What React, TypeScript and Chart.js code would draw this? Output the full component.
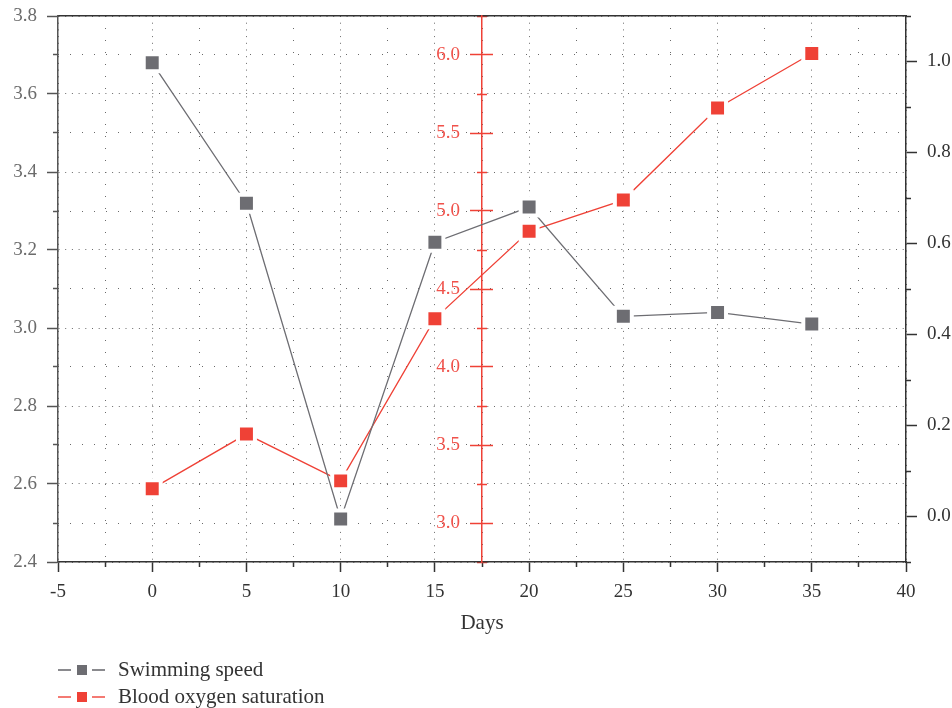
import React, { useEffect, useRef } from "react";
import { Chart, registerables } from "chart.js";

Chart.register(...registerables);

// ---- data ----
const days = [0, 5, 10, 15, 20, 25, 30, 35];
const swimmingSpeed = [3.68, 3.32, 2.51, 3.22, 3.31, 3.03, 3.04, 3.01];
const bloodOxygen = [3.22, 3.57, 3.27, 4.31, 4.87, 5.07, 5.66, 6.01];

// ---- axes ----
const xRange = [-5, 40];
const leftRange = [2.4, 3.8];
const redRange = [2.75, 6.25];
const rightRange = [-0.1, 1.1];
const redAxisAt = 17.5;

const xMajorTicks = [-5, 0, 5, 10, 15, 20, 25, 30, 35, 40];
const xMinorTicks = [-2.5, 2.5, 7.5, 12.5, 17.5, 22.5, 27.5, 32.5, 37.5];
const leftMajorTicks = [2.4, 2.6, 2.8, 3.0, 3.2, 3.4, 3.6, 3.8];
const leftMinorTicks = [2.5, 2.7, 2.9, 3.1, 3.3, 3.5, 3.7];
const redMajorTicks = [3.0, 3.5, 4.0, 4.5, 5.0, 5.5, 6.0];
const redMinorTicks = [2.75, 3.25, 3.75, 4.25, 4.75, 5.25, 5.75, 6.25];
const rightMajorTicks = [0.0, 0.2, 0.4, 0.6, 0.8, 1.0];
const rightMinorTicks = [-0.1, 0.1, 0.3, 0.5, 0.7, 0.9, 1.1];

// ---- layout / style ----
const LEFT_W = 58;
const RIGHT_W = 46;
const PLOT_W = 952 - LEFT_W - RIGHT_W;
const RED_LABEL_GAP_PX = 22;
const redLabelsAt = redAxisAt - (RED_LABEL_GAP_PX * (xRange[1] - xRange[0])) / PLOT_W;

const FONT = "'Liberation Serif', 'Times New Roman', Times, serif";
const GRAY = "#6d6d72";
const RED = "#ef4136";
const RED_LABEL = "#f0524b";
const GRID = "#6a6a6a";
const DARK = "#333333";
const MAJOR_DASH = [1, 5.7];
const MINOR_DASH = [1, 11];

const fixedTicks = (vals: number[]) => (scale: any) => {
  scale.ticks = vals.map((v) => ({ value: v }));
};

const noPad = (s: any) => {
  s.paddingTop = 0;
  s.paddingBottom = 0;
};

const tickOnly = (
  position: any,
  range: number[],
  vals: number[],
  len: number,
  color: string
) => ({
  type: "linear",
  position,
  min: range[0],
  max: range[1],
  afterBuildTicks: fixedTicks(vals),
  ticks: { display: false },
  grid: {
    drawOnChartArea: false,
    tickLength: len,
    tickColor: color,
    tickWidth: 1.5,
  },
  border: { display: false },
});

export default function App() {
  const ref = useRef<HTMLCanvasElement | null>(null);

  useEffect(() => {
    if (!ref.current) return;
    const chart = new Chart(ref.current, {
      type: "line",
      data: {
        datasets: [
          {
            label: "Swimming speed",
            data: days.map((d, i) => ({ x: d, y: swimmingSpeed[i] })),
            xAxisID: "x",
            yAxisID: "y",
            borderColor: GRAY,
            borderWidth: 1.3,
            pointStyle: "rect",
            pointRadius: 12,
            pointHoverRadius: 12,
            pointBackgroundColor: GRAY,
            pointBorderColor: "#ffffff",
            pointBorderWidth: 4,
            tension: 0,
            fill: false,
          },
          {
            label: "Blood oxygen saturation",
            data: days.map((d, i) => ({ x: d, y: bloodOxygen[i] })),
            xAxisID: "x",
            yAxisID: "yRed",
            borderColor: RED,
            borderWidth: 1.3,
            pointStyle: "rect",
            pointRadius: 12,
            pointHoverRadius: 12,
            pointBackgroundColor: RED,
            pointBorderColor: "#ffffff",
            pointBorderWidth: 4,
            tension: 0,
            fill: false,
          },
        ],
      },
      options: {
        responsive: false,
        animation: false,
        layout: { padding: { top: 16, left: 0, right: 0, bottom: 72 } },
        plugins: {
          legend: { display: false },
          tooltip: { enabled: false },
        },
        scales: {
          x: {
            type: "linear",
            position: "bottom",
            min: xRange[0],
            max: xRange[1],
            afterBuildTicks: fixedTicks(xMajorTicks),
            afterFit: (s: any) => {
              s.height = 74;
            },
            ticks: {
              font: { family: FONT, size: 19 },
              color: DARK,
              padding: 9,
              autoSkip: false,
              maxRotation: 0,
              callback: (v: any) => String(v),
            },
            grid: {
              color: GRID,
              lineWidth: 1,
              tickLength: 10,
              tickColor: DARK,
              tickWidth: 1.5,
            },
            border: { color: DARK, width: 1.5, dash: MAJOR_DASH },
            title: {
              display: true,
              text: "Days",
              font: { family: FONT, size: 21 },
              color: DARK,
              padding: { top: 0, bottom: 0 },
            },
          },
          xMinor: {
            type: "linear",
            position: { y: leftRange[0] },
            min: xRange[0],
            max: xRange[1],
            afterBuildTicks: fixedTicks(xMinorTicks),
            ticks: { display: false },
            grid: {
              color: GRID,
              lineWidth: 1,
              tickLength: 5,
              tickColor: DARK,
              tickWidth: 1.5,
            },
            border: { display: false, dash: MINOR_DASH },
          },
          xTop: {
            type: "linear",
            position: { y: leftRange[1] },
            min: xRange[0],
            max: xRange[1],
            afterBuildTicks: fixedTicks(xMajorTicks),
            ticks: { display: false },
            grid: { drawOnChartArea: false, drawTicks: false },
            border: { display: true, color: DARK, width: 1.5 },
          },
          y: {
            type: "linear",
            position: "left",
            min: leftRange[0],
            max: leftRange[1],
            afterBuildTicks: fixedTicks(leftMajorTicks),
            afterFit: (s: any) => {
              s.width = LEFT_W;
              noPad(s);
            },
            ticks: {
              font: { family: FONT, size: 19 },
              color: "#6b6b6b",
              padding: 10,
              callback: (v: any) => Number(v).toFixed(1),
            },
            grid: {
              color: GRID,
              lineWidth: 1,
              tickLength: 11,
              tickColor: "#555555",
              tickWidth: 1.5,
            },
            border: { color: "#555555", width: 1.5, dash: MAJOR_DASH },
          },
          yMinor: {
            type: "linear",
            position: { x: xRange[0] },
            min: leftRange[0],
            max: leftRange[1],
            afterBuildTicks: fixedTicks(leftMinorTicks),
            ticks: { display: false },
            grid: {
              color: GRID,
              lineWidth: 1,
              tickLength: 5,
              tickColor: "#555555",
              tickWidth: 1.5,
            },
            border: { display: false, dash: MINOR_DASH },
          },
          yRed: {
            type: "linear",
            position: { x: redAxisAt },
            min: redRange[0],
            max: redRange[1],
            afterBuildTicks: fixedTicks(redMajorTicks),
            ticks: { display: false },
            grid: {
              drawOnChartArea: false,
              tickLength: 11,
              tickColor: RED,
              tickWidth: 1.5,
            },
            border: { color: RED, width: 1.5 },
          },
          yRedLabels: {
            type: "linear",
            position: { x: redLabelsAt },
            min: redRange[0],
            max: redRange[1],
            afterBuildTicks: fixedTicks(redMajorTicks),
            afterFit: noPad,
            ticks: {
              font: { family: FONT, size: 19 },
              color: RED_LABEL,
              padding: 0,
              callback: (v: any) => Number(v).toFixed(1),
            },
            grid: { drawOnChartArea: false, drawTicks: false },
            border: { display: false },
          },
          yRedR: tickOnly({ x: redAxisAt }, redRange, redMajorTicks, -11, RED),
          yRedMinorL: tickOnly({ x: redAxisAt }, redRange, redMinorTicks, 5, RED),
          yRedMinorR: tickOnly({ x: redAxisAt }, redRange, redMinorTicks, -5, RED),
          yRight: {
            type: "linear",
            position: "right",
            min: rightRange[0],
            max: rightRange[1],
            afterBuildTicks: fixedTicks(rightMajorTicks),
            afterFit: (s: any) => {
              s.width = RIGHT_W;
              noPad(s);
            },
            ticks: {
              font: { family: FONT, size: 19 },
              color: DARK,
              padding: 10,
              callback: (v: any) => Number(v).toFixed(1),
            },
            grid: {
              drawOnChartArea: false,
              tickLength: 11,
              tickColor: DARK,
              tickWidth: 1.5,
            },
            border: { color: DARK, width: 1.5 },
          },
          yRightMinor: tickOnly({ x: xRange[1] }, rightRange, rightMinorTicks, -5, DARK),
        },
      } as any,
    } as any);
    return () => chart.destroy();
  }, []);

  const legendItems = [
    { label: "Swimming speed", line: "#8a8a8e", box: GRAY },
    { label: "Blood oxygen saturation", line: "#f47a73", box: RED },
  ];

  return (
    <div style={{ position: "absolute", left: 0, top: 0, width: 952, height: 708, background: "#fff" }}>
      <canvas ref={ref} width={952} height={708} style={{ display: "block", width: 952, height: 708 }} />
      <div
        style={{
          position: "absolute",
          left: 58,
          top: 656,
          fontFamily: FONT,
          fontSize: 21,
          color: DARK,
        }}
      >
        {legendItems.map((it) => (
          <div key={it.label} style={{ display: "flex", alignItems: "center", height: 27 }}>
            <div style={{ position: "relative", width: 47, height: 27, flex: "none" }}>
              <div style={{ position: "absolute", left: 0, top: 13, width: 13, height: 1.5, background: it.line }} />
              <div style={{ position: "absolute", left: 18.5, top: 8.5, width: 10, height: 10, background: it.box }} />
              <div style={{ position: "absolute", left: 34, top: 13, width: 13, height: 1.5, background: it.line }} />
            </div>
            <span style={{ marginLeft: 13, whiteSpace: "nowrap", lineHeight: "27px" }}>{it.label}</span>
          </div>
        ))}
      </div>
    </div>
  );
}
